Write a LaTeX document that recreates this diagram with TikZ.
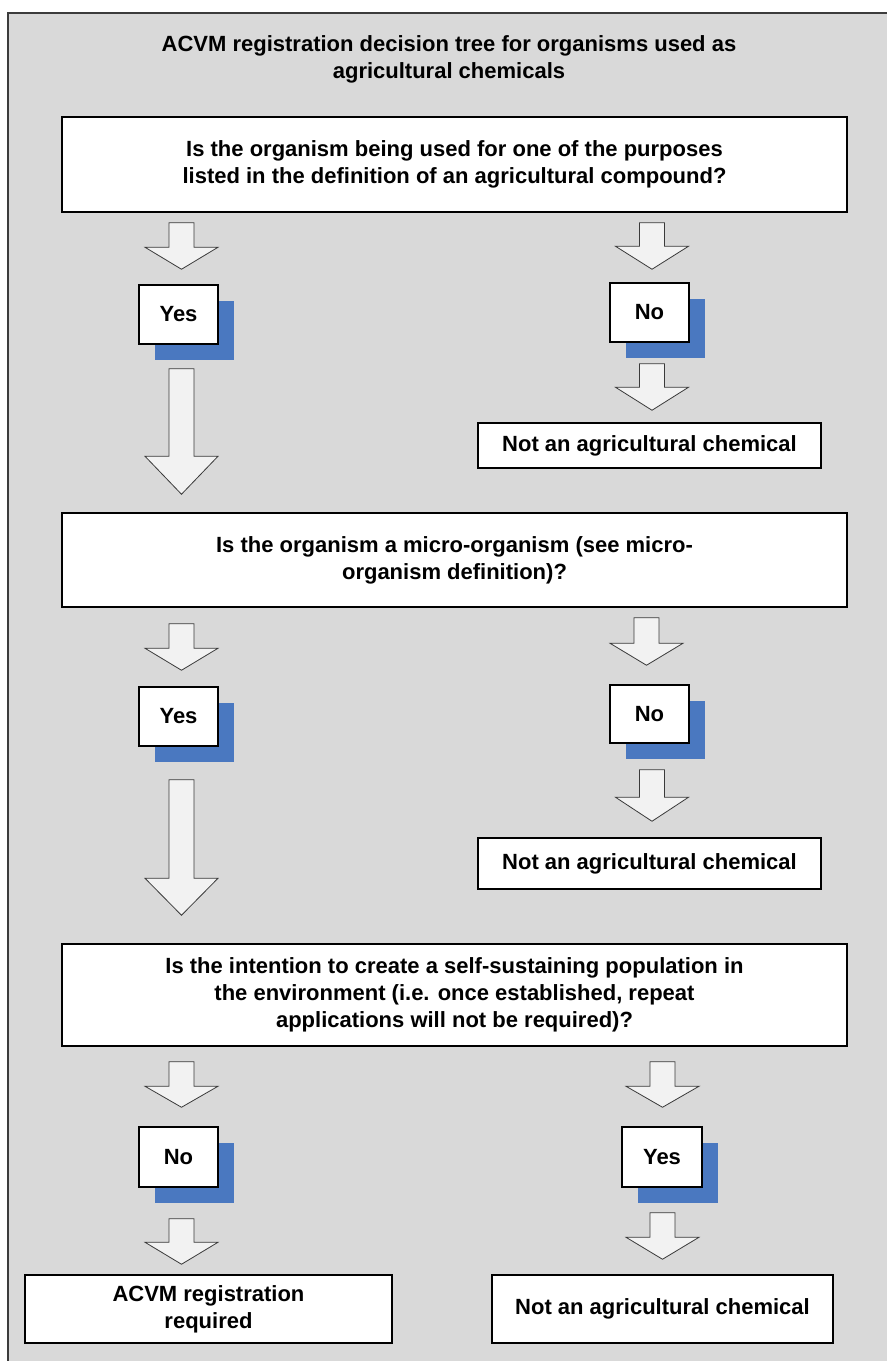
\documentclass[tikz,border=0pt]{standalone}
\usepackage{fontspec}
\setmainfont{Liberation Sans}
\usetikzlibrary{calc,shadows}
\definecolor{bggray}{HTML}{D9D9D9}
\definecolor{arrowfill}{HTML}{F2F2F2}
\definecolor{arrowline}{HTML}{3A3A3A}
\definecolor{shadowblue}{HTML}{4A78C0}
\definecolor{framegray}{HTML}{3C3C3C}
% block arrow from point #1 (top) to point #2 (tip), head length #3 (pt)
\newcommand\fatarrow[3]{%
  \path[fatarrowstyle] let \p1=#1, \p2=#2 in
    (\x1-12.5pt,\y1) -- (\x1+12.5pt,\y1) -- (\x1+12.5pt,\y2+#3pt)
    -- (\x1+36.5pt,\y2+#3pt) -- (\x1,\y2) -- (\x1-36.5pt,\y2+#3pt)
    -- (\x1-12.5pt,\y2+#3pt) -- cycle;}
\begin{document}
\begin{tikzpicture}[x=1pt,y=-1pt,
  txt/.style={font=\bfseries\fontsize{22}{27}\selectfont, align=center, inner sep=0pt, text=black},
  boxed/.style={txt, draw=black, line width=1.5pt, fill=white},
  qbox/.style={boxed, minimum width=785pt},
  rbox/.style={boxed},
  ansbox/.style={boxed, minimum width=79pt, minimum height=59pt,
    drop shadow={shadow xshift=16pt, shadow yshift=-16pt, fill=shadowblue, opacity=1}},
  fatarrowstyle/.style={fill=arrowfill, draw=arrowline, line width=0.8pt, line join=miter}]
\useasboundingbox (0,0) rectangle (887,1361);
\fill[white] (0,0) rectangle (887,1361);
\fill[bggray] (8,13) rectangle (887,1361);
\draw[framegray, line width=1.5pt] (8,1361) -- (8,13) -- (887,13);

% column coordinates
\coordinate (cL) at (181.5,0);
\coordinate (cR) at (652,0);
\coordinate (cRb) at (646.5,0);
\coordinate (cRc) at (662.5,0);

\node[txt] (title) at (449,59.8) {ACVM registration decision tree for organisms used as\\agricultural chemicals};

% level 1
\node[qbox, minimum height=95pt] (q1) at (454.5,164.5) {Is the organism being used for one of the purposes\\listed in the definition of an agricultural compound?};
\node[ansbox] (yes1) at (178.5,314.5) {Yes};
\node[ansbox] (no1) at (649.5,312.5) {No};
\node[rbox, minimum width=343pt, minimum height=45pt] (not1) at (649.5,445.5) {Not an agricultural chemical};

% level 2
\node[qbox, minimum height=94pt] (q2) at (454.5,560) {Is the organism a micro-organism (see micro-\\organism definition)?};
\node[ansbox] (yes2) at (178.5,716.5) {Yes};
\node[ansbox, minimum height=58pt] (no2) at (649.5,714) {No};
\node[rbox, minimum width=343pt, minimum height=51pt] (not2) at (649.5,863.5) {Not an agricultural chemical};

% level 3
\node[qbox, minimum height=102pt] (q3) at (454.5,995) {Is the intention to create a self-sustaining population in\\the environment (i.e. once established, repeat\\applications will not be required)?};
\node[ansbox, minimum height=60pt] (no3) at (178.5,1157) {No};
\node[ansbox, minimum width=80pt, minimum height=60pt] (yes3) at (662,1157) {Yes};
\node[rbox, minimum width=367pt, minimum height=68pt] (reg) at (208.5,1309) {ACVM registration\\required};
\node[rbox, minimum width=341pt, minimum height=68pt] (not3) at (662.5,1309) {Not an agricultural chemical};

% block arrows
\fatarrow{($(q1.south -| cL)+(0,10)$)}{($(yes1.north -| cL)+(0,-15)$)}{22}
\fatarrow{($(q1.south -| cR)+(0,10)$)}{($(no1.north -| cR)+(0,-13)$)}{23}
\fatarrow{($(yes1.south -| cL)+(0,24)$)}{($(q2.north -| cL)+(0,-18)$)}{38}
\fatarrow{($(no1.south -| cR)+(0,21)$)}{($(not1.north -| cR)+(0,-12)$)}{23}

\fatarrow{($(q2.south -| cL)+(0,16)$)}{($(yes2.north -| cL)+(0,-16)$)}{22}
\fatarrow{($(q2.south -| cRb)+(0,10)$)}{($(no2.north -| cRb)+(0,-19)$)}{22}
\fatarrow{($(yes2.south -| cL)+(0,33)$)}{($(q3.north -| cL)+(0,-28)$)}{37}
\fatarrow{($(no2.south -| cR)+(0,26)$)}{($(not2.north -| cR)+(0,-16)$)}{24}

\fatarrow{($(q3.south -| cL)+(0,15)$)}{($(no3.north -| cL)+(0,-19)$)}{21}
\fatarrow{($(q3.south -| cRc)+(0,15)$)}{($(yes3.north -| cRc)+(0,-19)$)}{21}
\fatarrow{($(no3.south -| cL)+(0,31)$)}{($(reg.north -| cL)+(0,-10)$)}{22}
\fatarrow{($(yes3.south -| cRc)+(0,25)$)}{($(not3.north -| cRc)+(0,-15)$)}{22}
\end{tikzpicture}
\end{document}
